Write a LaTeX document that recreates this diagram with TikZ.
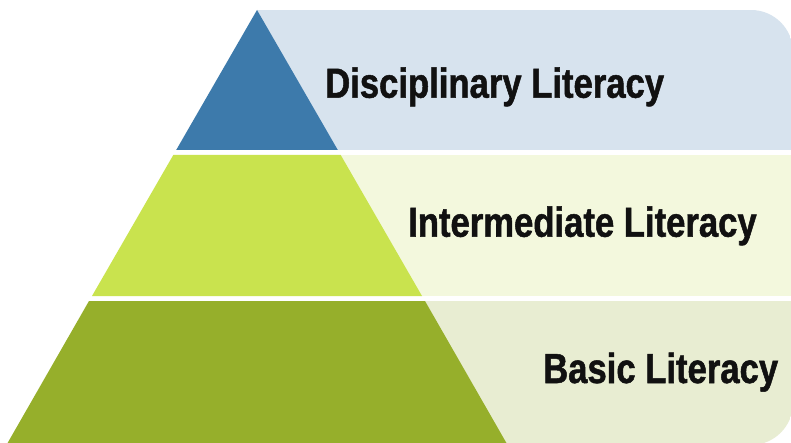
\documentclass[tikz,border=0pt]{standalone}
\usepackage{fontspec}
\newfontfamily\labfont{Liberation Sans}[FakeStretch=0.825,FakeBold=1.2]
\definecolor{tri}{HTML}{3D7AAB}
\definecolor{topbg}{HTML}{D7E3EE}
\definecolor{midgreen}{HTML}{C9E34E}
\definecolor{midbg}{HTML}{F3F8DD}
\definecolor{botgreen}{HTML}{96AF2B}
\definecolor{botbg}{HTML}{E8EDD2}
\definecolor{txt}{HTML}{111111}
\tikzset{
  lab/.style={anchor=base west, inner sep=0pt, text=txt, font=\labfont\bfseries\fontsize{42}{46}\selectfont}
}
\begin{document}
\begin{tikzpicture}[x=1pt,y=-1pt]
\useasboundingbox (0,0) rectangle (791,443);
\fill[white] (0,0) rectangle (791,443);
\begin{scope}
  \clip (0,10) [rounded corners=42] -- (793,10) -- (793,445) [sharp corners] -- (0,445) -- cycle;
  \fill[topbg] (257,10) rectangle (800,150);
  \fill[midbg] (300,155) rectangle (800,296);
  \fill[botbg] (300,301) rectangle (800,450);
\end{scope}
\fill[tri] (257,10) -- (337.8,150) -- (176.2,150) -- cycle;
\fill[midgreen] (173.3,155) -- (340.7,155) -- (422,296) -- (92,296) -- cycle;
\fill[botgreen] (89,301) -- (425,301) -- (507,444) -- (7,444) -- cycle;
\node[lab] (disc) at (325,97.7) {Disciplinary Literacy};
\node[lab] (inter) at (408,236.7) {Intermediate Literacy};
\node[lab] (basic) at (543,383) {Basic Literacy};
\end{tikzpicture}
\end{document}
